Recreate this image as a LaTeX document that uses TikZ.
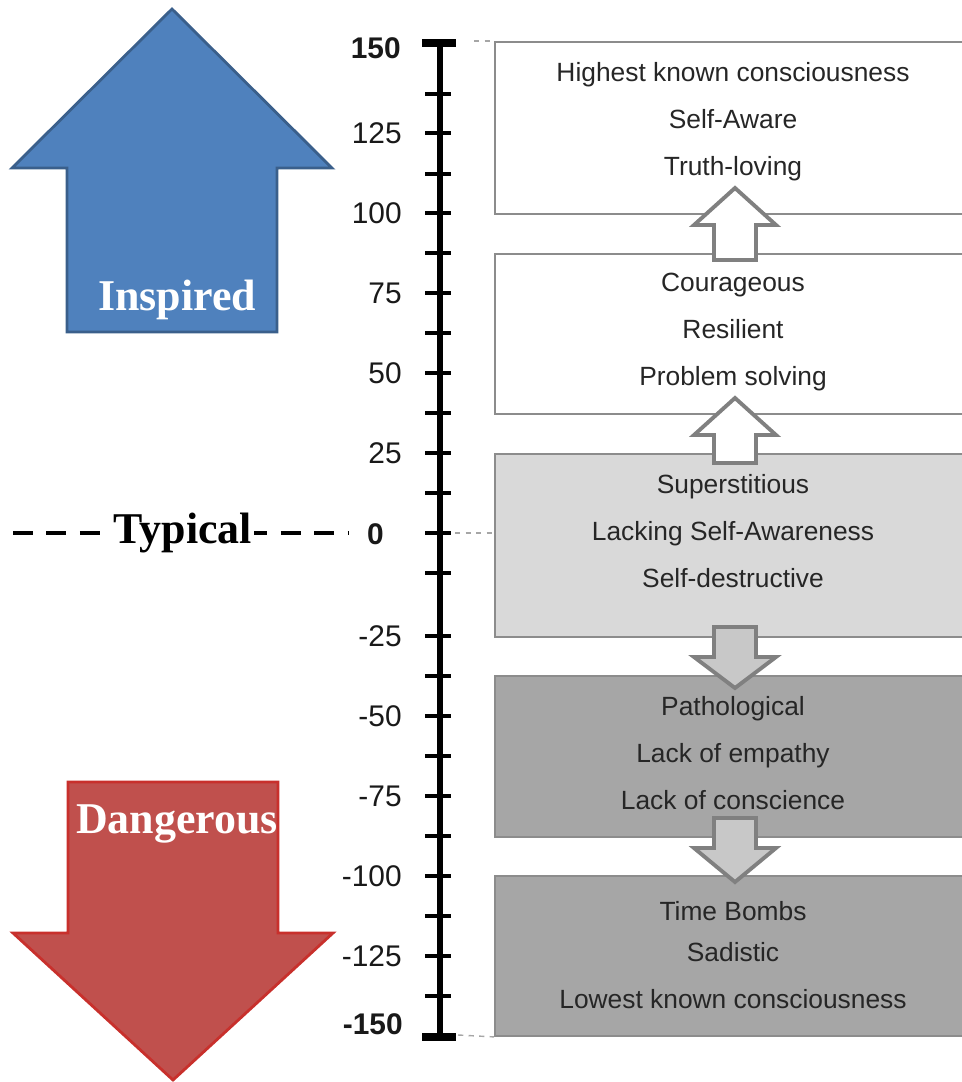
\documentclass[tikz,border=0pt]{standalone}
\usepackage{fontspec}
\setmainfont{Liberation Sans}
\newfontfamily\headfont{Liberation Serif}
\usetikzlibrary{positioning,calc}

\definecolor{inspblue}{HTML}{4F81BD}
\definecolor{inspedge}{HTML}{3A5F8B}
\definecolor{dangred}{HTML}{C0504D}
\definecolor{dangedge}{HTML}{C8302C}
\definecolor{lvlight}{HTML}{D9D9D9}
\definecolor{lvdark}{HTML}{A6A6A6}
\definecolor{lvedge}{HTML}{8C8C8C}
\definecolor{arredge}{HTML}{808080}
\definecolor{arrfill}{HTML}{C8C8C8}

\begin{document}
\begin{tikzpicture}[x=0.02cm,y=-0.02cm,
   lvlbox/.style={draw=lvedge,line width=1.1pt,minimum width=9.62cm,inner sep=0pt,anchor=north west},
   lvltxt/.style={align=center,text=black!85,inner sep=0pt,font=\fontsize{15}{26.7}\selectfont},
   ticklbl/.style={anchor=east,inner sep=0pt,text=black!90,font=\fontsize{17}{20}\selectfont},
   bigword/.style={anchor=base,text=white,inner sep=1pt,font=\headfont\bfseries\fontsize{25}{30}\selectfont},
   hollow/.style={draw=arredge,line width=2.2pt,line join=miter},
   leader/.style={draw=gray!70,line width=0.8pt,dashed}]
 \useasboundingbox (0,0) rectangle (962,1082);
 \clip (0,0) rectangle (962,1082);
 % level boxes
 \node[lvlbox,fill=white,minimum height=3.44cm] (b1) at (494,41) {};
 \node[lvlbox,fill=white,minimum height=3.2cm] (b2) at (494,253) {};
 \node[lvlbox,fill=lvlight,minimum height=3.66cm] (b3) at (494,453) {};
 \node[lvlbox,fill=lvdark,minimum height=3.22cm] (b4) at (494,675) {};
 \node[lvlbox,fill=lvdark,minimum height=3.2cm] (b5) at (494,875) {};
 \node[lvltxt] (t1) at (733,122) {Highest known consciousness\\Self-Aware\\Truth-loving};
 \node[lvltxt] (t2) at (733,332) {Courageous\\Resilient\\Problem solving};
 \node[lvltxt] (t3) at (733,531) {Superstitious\\Lacking Self-Awareness\\Self-destructive};
 \node[lvltxt] (t4) at (733,753) {Pathological\\Lack of empathy\\Lack of conscience};
 \node[lvltxt] (t5) at (733,955) {Time Bombs\\[-0.1cm]Sadistic\\Lowest known consciousness};
 % hollow arrows between the boxes
 \foreach \tip/\neck/\tail/\col in {188/225/260/white,398/435/463/white,688/657/627/arrfill,882/848/818/arrfill}
  \draw[hollow,fill=\col] (735,\tip) -- (776,\neck) -- (756,\neck) -- (756,\tail) -- (714,\tail)
   -- (714,\neck) -- (694,\neck) -- cycle;
 % scale
 \coordinate (axtop) at (440,43);
 \coordinate (axbot) at (440,1037);
 \coordinate (zero) at (440,533);
 \draw[line width=3.8pt] (axtop) -- (axbot);
 \draw[line width=4.6pt] ($(axtop)+(-18,0)$) -- ($(axtop)+(16,0)$);
 \draw[line width=4.6pt] ($(axbot)+(-18,0)$) -- ($(axbot)+(16,0)$);
 \foreach \y in {94,133,174,213,253,293,333,373,413,453,493,533,573,636,676,716,756,796,836,876,916,956,996}
  \draw[line width=2.6pt] (425,\y) -- (451,\y);
 \foreach \y/\v [count=\i] in {133/125,213/100,293/75,373/50,453/25,636/-25,716/-50,796/-75,876/-100,956/-125}
  \node[ticklbl] (lbl\i) at (402,\y) {\v};
 \node[ticklbl] (lbltop) at (401,48) {\bfseries 150};
 \node[ticklbl] (lblzero) at (384,534) {\bfseries 0};
 \node[ticklbl] (lblbot) at (403,1024) {\bfseries -150};
 \draw[leader] ($(axtop)+(34,-2)$) -- (b1.north west);
 \draw[leader] ($(zero)+(15,0)$) -- (zero -| b3.west);
 \draw[leader] ($(axbot)+(18,-2)$) -- (b5.south west);
 % big arrows
 \draw[fill=inspblue,draw=inspedge,line width=1.6pt] (172,9) -- (332,168) -- (277,168) -- (277,332)
  -- (67,332) -- (67,168) -- (12,168) -- cycle;
 \draw[fill=dangred,draw=dangedge,line width=1.6pt] (68,782) -- (278,782) -- (278,933) -- (333,933)
  -- (173,1080) -- (13,933) -- (68,933) -- cycle;
 \node[bigword] (insp) at (177,310) {Inspired};
 \node[bigword] (dang) at (177,833) {Dangerous};
 % typical line
 \coordinate (tyL) at (13,533);
 \coordinate (tyR) at (348,533);
 \draw[line width=2.4pt,dash pattern=on 0.4cm off 0.27cm] (tyL) -- (tyR);
 \node[bigword,text=black,fill=white] (typ) at (183,543) {Typical};
\end{tikzpicture}
\end{document}
